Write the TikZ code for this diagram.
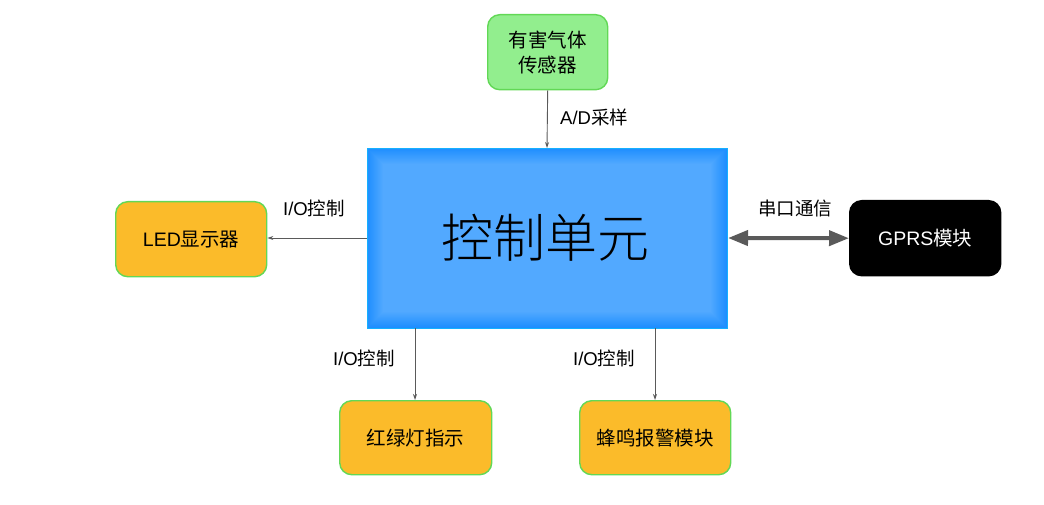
\documentclass[tikz,border=0pt]{standalone}
\usepackage{fontspec}
\newfontfamily\cjk{Noto Sans CJK SC}
\newfontfamily\cjklight{Noto Sans CJK SC Light}
\newfontfamily\lat{Liberation Sans}
\usetikzlibrary{arrows.meta}
\definecolor{sensorfill}{HTML}{92EE8E}
\definecolor{boxborder}{HTML}{62D856}
\definecolor{orangefill}{HTML}{FBBB2A}
\definecolor{edgeblue}{HTML}{1E8EFF}
\definecolor{innerblue}{HTML}{52A9FF}
\definecolor{linegray}{HTML}{5A5A5A}
\begin{document}
\begin{tikzpicture}[x=1pt,y=-1pt,
  roundbox/.style={draw=boxborder,line width=1.4pt,rounded corners=12pt,anchor=north west,inner sep=0pt,align=center,font=\fontsize{19.5}{25}\selectfont},
  conn/.style={draw=linegray,line width=0.9pt,-{Stealth[length=6pt,width=4pt]}},
  lbl/.style={font=\fontsize{18.5}{20}\selectfont,text=black,inner sep=0pt}]
\useasboundingbox (0,0) rectangle (1044,505);
% control unit with soft edge shading
\foreach \i in {0,...,20}{
  \pgfmathsetmacro{\m}{100*min(\i/16,1)}
  \fill[innerblue!\m!edgeblue] (367+\i,148+\i) rectangle (727-\i,328-\i);
}
\draw[line width=0.6pt,draw=edgeblue!70!cyan] (367,148) rectangle (727,328);
\node[inner sep=0pt,font=\fontsize{52}{56}\selectfont\cjklight] (ctrl) at (545,238) {控制单元};
\coordinate (cN) at (547,148);
\coordinate (cW) at (367,238);
\coordinate (cE) at (727,238);
\coordinate (cS1) at (415,328);
\coordinate (cS2) at (655,328);
% boxes
\node[roundbox,fill=sensorfill,minimum width=120pt,minimum height=75pt] (sensor) at (487,14) {\cjk 有害气体\\\cjk 传感器};
\node[roundbox,fill=orangefill,minimum width=151pt,minimum height=75pt] (led) at (115,201) {\lat LED\cjk 显示器};
\node[roundbox,draw=black,fill=black,text=white,minimum width=151pt,minimum height=75pt] (gprs) at (849,200) {\lat GPRS\cjk 模块};
\node[roundbox,fill=orangefill,minimum width=152pt,minimum height=74pt] (light) at (339,400) {\cjk 红绿灯指示};
\node[roundbox,fill=orangefill,minimum width=151pt,minimum height=74pt] (buzz) at (579,400) {\cjk 蜂鸣报警模块};
% connectors
\draw[conn] (sensor.south) -- (cN);
\draw[conn] (cW) -- (cW -| led.east);
\draw[conn] (cS1) -- (cS1 |- light.north);
\draw[conn] (cS2) -- (cS2 |- buzz.north);
\draw[draw=linegray,line width=4pt,{Stealth[length=20pt,width=15pt,inset=0pt]}-{Stealth[length=20pt,width=15pt,inset=0pt]}] (cE) ++(1,0) -- (gprs.west);
% labels
\node[lbl,anchor=west] (l1) at (560,117) {\lat A/D\cjk 采样};
\node[lbl,anchor=west] (l2) at (283,208) {\lat I/O\cjk 控制};
\node[lbl,anchor=west] (l3) at (758,208) {\cjk 串口通信};
\node[lbl,anchor=west] (l4) at (333,358) {\lat I/O\cjk 控制};
\node[lbl,anchor=west] (l5) at (573,358) {\lat I/O\cjk 控制};
\end{tikzpicture}
\end{document}
